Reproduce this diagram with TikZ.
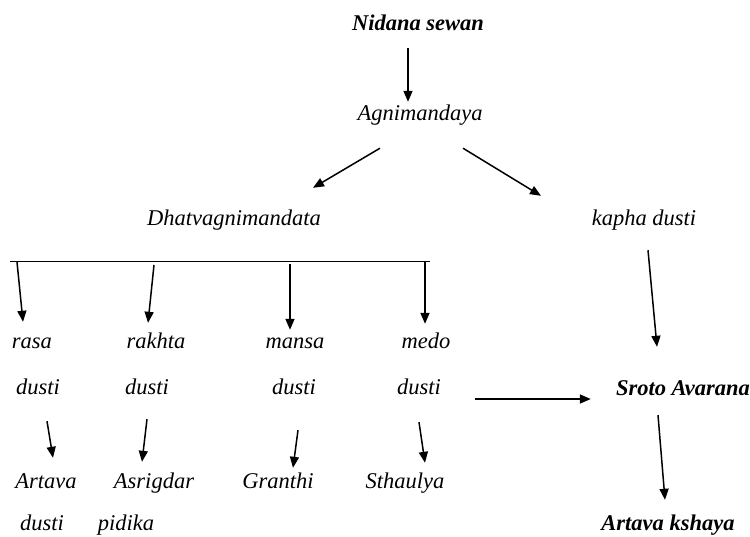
\documentclass[tikz,border=0pt]{standalone}
\usepackage{fontspec}
\setmainfont{Liberation Serif}
\usetikzlibrary{arrows.meta}

\begin{document}
\begin{tikzpicture}[x=1pt,y=-1pt,
    lbl/.style={font=\fontsize{22.5}{26}\selectfont\itshape, inner sep=0pt,
      anchor=base, text height=15pt, text depth=5pt},
    boldlbl/.style={lbl, font=\fontsize{22.5}{26}\selectfont\bfseries\itshape},
    arr/.style={-{Triangle[length=11pt,width=9pt]}, line width=1.5pt}]
  \useasboundingbox (0,0) rectangle (750,536);

  % Top of the chain
  \node[boldlbl] (nidana) at (418,30) {Nidana sewan};
  \node[lbl] (agni) at (420,120) {Agnimandaya};
  \node[lbl] (dhatu) at (234,225) {Dhatvagnimandata};
  \node[lbl] (kapha) at (644,225) {kapha dusti};

  \draw[arr] ([shift={(-10,13)}]nidana.south) -- ([shift={(-12,-3)}]agni.north);
  \draw[arr] ([shift={(-40,23)}]agni.south) -- ([shift={(79,-22)}]dhatu.north);
  \draw[arr] ([shift={(43,23)}]agni.south) -- ([shift={(-103,-14)}]kapha.north);

  % Branch line under Dhatvagnimandata
  \coordinate (bl) at (10,261);
  \coordinate (br) at (430,261);
  \draw[line width=0.9pt] (bl) -- (br);

  % Dhatu dusti
  \node[lbl] (rasa)   at (32,348)  {rasa};
  \node[lbl] (rakhta) at (156,348) {rakhta};
  \node[lbl] (mansa)  at (295,348) {mansa};
  \node[lbl] (medo)   at (426,348) {medo};
  \node[lbl] (rasad)   at (38,394)  {dusti};
  \node[lbl] (rakhtad) at (147,394) {dusti};
  \node[lbl] (mansad)  at (294,394) {dusti};
  \node[lbl] (medod)   at (419,394) {dusti};

  \draw[arr] ([shift={(7,1)}]bl) -- ([shift={(-9,-11)}]rasa.north);
  \draw[arr] ([shift={(144,4)}]bl) -- ([shift={(-8,-10)}]rakhta.north);
  \draw[arr] ([shift={(280,3)}]bl) -- ([shift={(-5,-3)}]mansa.north);
  \draw[arr] ([shift={(-5,1)}]br) -- ([shift={(-1,-9)}]medo.north);

  % Resulting disorders
  \node[lbl] (artava)   at (46,488)  {Artava};
  \node[lbl] (asrigdar) at (154,488) {Asrigdar};
  \node[lbl] (granthi)  at (278,488) {Granthi};
  \node[lbl] (sthaulya) at (405,488) {Sthaulya};
  \node[lbl] (artavad)  at (42,530)  {dusti};
  \node[lbl] (pidika)   at (126,530) {pidika};

  \draw[arr] ([shift={(9,22)}]rasad.south) -- ([shift={(7,-15)}]artava.north);
  \draw[arr] ([shift={(0,20)}]rakhtad.south) -- ([shift={(-12,-11)}]asrigdar.north);
  \draw[arr] ([shift={(4,31)}]mansad.south) -- ([shift={(15,-5)}]granthi.north);
  \draw[arr] ([shift={(0,23)}]medod.south) -- ([shift={(20,-10)}]sthaulya.north);

  % Right side
  \node[boldlbl] (sroto) at (683,395) {Sroto Avarana};
  \node[boldlbl] (kshaya) at (668,530) {Artava kshaya};

  \draw[arr] ([shift={(4,20)}]kapha.south) -- ([shift={(-26,-33)}]sroto.north);
  \draw[arr] ([shift={(34,10)}]medod.east) -- ([shift={(-25,9)}]sroto.west);
  \draw[arr] ([shift={(-25,15)}]sroto.south) -- ([shift={(-3,-15)}]kshaya.north);
\end{tikzpicture}
\end{document}
